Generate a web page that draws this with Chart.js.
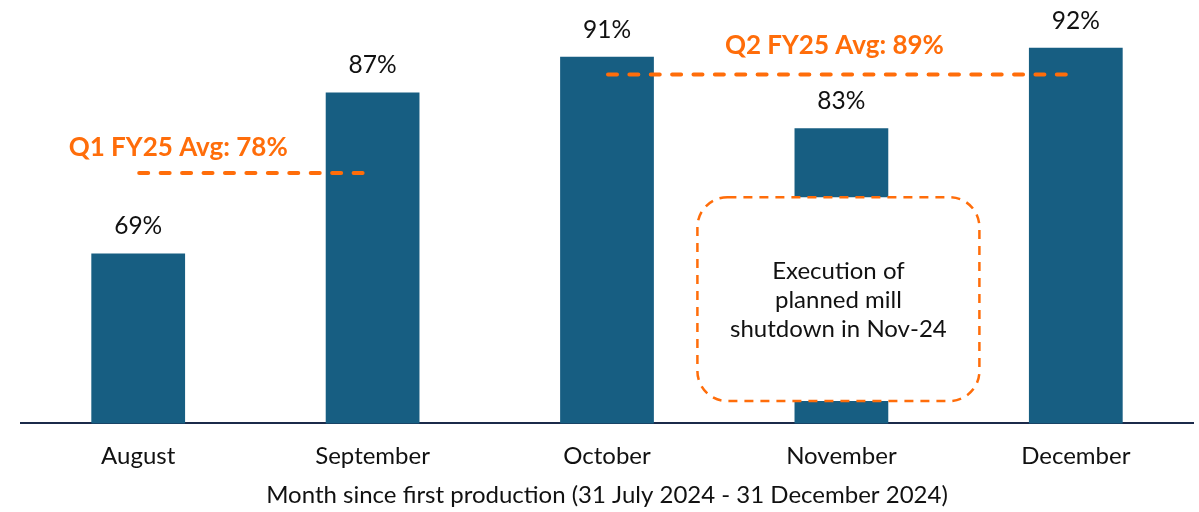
<!DOCTYPE html>
<html>
<head>
<meta charset="utf-8">
<script src="https://cdn.jsdelivr.net/npm/chart.js@4"></script>
<style>
  html, body { margin: 0; padding: 0; background: #fff; }
  #wrap { width: 1199px; height: 512px; position: relative; }
</style>
</head>
<body>
<div id="wrap"><canvas id="graphique"></canvas></div>
<script>
// data
const mois = ["August", "September", "October", "November", "December"];
const utilisation = [69, 87, 91, 83, 92];
const moyennes = [
    { texte: "Q1 FY25 Avg: 78%", valeur: 78, de: 0, a: 1 },
    { texte: "Q2 FY25 Avg: 89%", valeur: 89, de: 2, a: 4 }
];
const note = ["Execution of", "planned mill", "shutdown in Nov-24"];

const police = "Lato, 'Open Sans', sans-serif";
const bleu = "#175e82";
const orange = "#ff6d0a";

// value labels above bars
const etiquettes = {
    id: "etiquettes",
    afterDatasetsDraw(chart) {
        const ctx = chart.ctx;
        const meta = chart.getDatasetMeta(0);
        ctx.save();
        ctx.font = "24.5px " + police;
        ctx.fillStyle = "#111";
        ctx.textAlign = "center";
        ctx.textBaseline = "middle";
        meta.data.forEach((bar, i) => {
            ctx.fillText(utilisation[i] + "%", bar.x, bar.y - 27);
        });
        ctx.restore();
    }
};

// average lines + note box
const annotations = {
    id: "annotations",
    afterDatasetsDraw(chart) {
        const ctx = chart.ctx;
        const x = chart.scales.x;
        const y = chart.scales.y;
        ctx.save();

        // note box over November
        const cx = x.getPixelForValue(3) - 3;
        const bw = 282;
        const top = y.getPixelForValue(75.3);
        const bas = y.getPixelForValue(52.5);
        ctx.beginPath();
        ctx.roundRect(cx - bw / 2, top, bw, bas - top, 30);
        ctx.fillStyle = "#fff";
        ctx.fill();
        ctx.setLineDash([9, 7]);
        ctx.lineWidth = 2.5;
        ctx.strokeStyle = orange;
        ctx.stroke();
        ctx.setLineDash([]);
        ctx.font = "24px " + police;
        ctx.fillStyle = "#111";
        ctx.textAlign = "center";
        ctx.textBaseline = "middle";
        const milieu = (top + bas) / 2;
        note.forEach((ligne, i) => {
            ctx.fillText(ligne, cx, milieu + 1 + (i - 1) * 29);
        });

        // dashed average lines, gap stretched so both ends get a full dash
        moyennes.forEach((m) => {
            const py = y.getPixelForValue(m.valeur);
            const x1 = x.getPixelForValue(m.de) - 1 + 2;
            const x2 = x.getPixelForValue(m.a) - 8 - 2;
            const trait = 9;
            const long = x2 - x1;
            const n = Math.round((long + 12) / (trait + 12));
            const gap = (long - n * trait) / (n - 1);
            ctx.beginPath();
            ctx.setLineDash([trait, gap]);
            ctx.lineCap = "round";
            ctx.lineWidth = 4;
            ctx.strokeStyle = orange;
            ctx.moveTo(x1, py);
            ctx.lineTo(x2, py);
            ctx.stroke();
        });
        ctx.setLineDash([]);

        ctx.font = "bold 26px " + police;
        ctx.fillStyle = orange;
        ctx.textAlign = "center";
        ctx.textBaseline = "middle";
        ctx.fillText(moyennes[0].texte, x.getPixelForValue(0) + 40, y.getPixelForValue(moyennes[0].valeur) - 25);
        ctx.fillText(moyennes[1].texte, x.getPixelForValue(3) - 7, y.getPixelForValue(moyennes[1].valeur) - 29);
        ctx.restore();
    }
};

new Chart(document.getElementById("graphique"), {
    type: "bar",
    data: {
        labels: mois,
        datasets: [{
            data: utilisation,
            backgroundColor: bleu,
            barPercentage: 0.4,
            categoryPercentage: 1
        }]
    },
    options: {
        responsive: true,
        maintainAspectRatio: false,
        animation: false,
        layout: { padding: { left: 21, right: 6, top: 12, bottom: 2 } },
        plugins: {
            legend: { display: false },
            tooltip: { enabled: false }
        },
        scales: {
            x: {
                grid: { display: false, drawTicks: false },
                border: { color: "#1b2a4a", width: 2 },
                ticks: { color: "#111", padding: 18, font: { family: police, size: 24 } },
                title: {
                    display: true,
                    text: "Month since first production (31 July 2024 - 31 December 2024)",
                    color: "#111",
                    padding: { top: -7, bottom: 0 },
                    font: { family: police, size: 24 }
                }
            },
            y: {
                display: false,
                min: 50,
                max: 96
            }
        }
    },
    plugins: [etiquettes, annotations]
});
</script>
</body>
</html>
